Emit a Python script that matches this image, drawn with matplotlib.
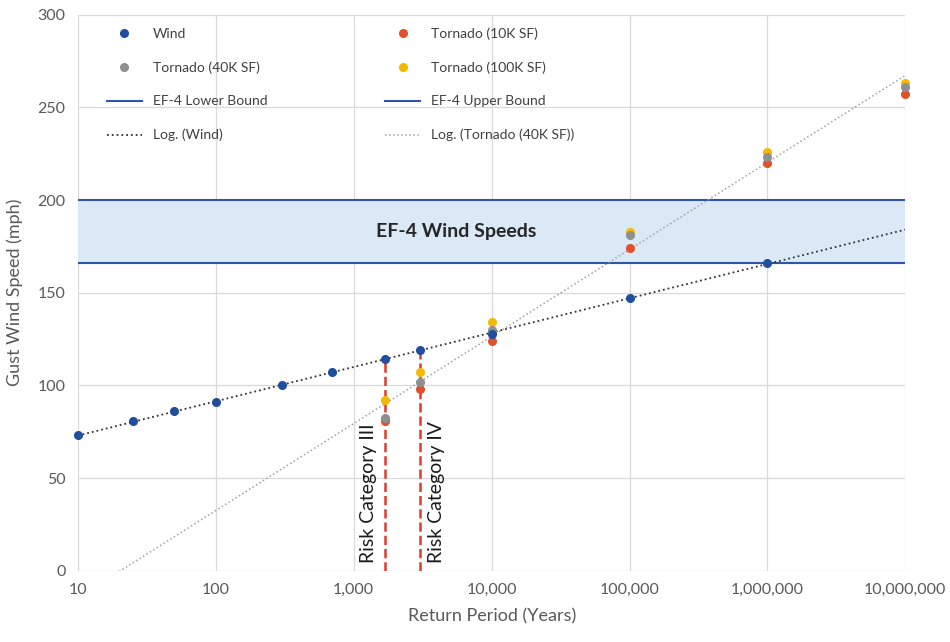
import matplotlib.pyplot as plt
import numpy as np

plt.rcParams['font.family'] = ['Lato', 'DejaVu Sans']

# Data
wind_years = [10, 25, 50, 100, 300, 700, 1700, 3000, 10000, 100000, 1000000]
wind_speed = [73, 81, 86, 91, 100, 107, 114, 119, 128, 147, 166]

tor_years = [1700, 3000, 10000, 100000, 1000000, 10000000]
tor_10k = [81, 98, 124, 174, 220, 257]
tor_40k = [82.5, 102, 130, 181, 223, 261]
tor_100k = [92, 107, 134, 183, 226, 263]

ef4_lower = 166
ef4_upper = 200

risk_years = [1700, 3000]
risk_labels = ["Risk Category III", "Risk Category IV"]

xticks = [10, 100, 1000, 10000, 100000, 1000000, 10000000]
xtick_labels = ["10", "100", "1,000", "10,000", "100,000", "1,000,000", "10,000,000"]

fig = plt.figure(figsize=(9.5, 6.42), dpi=100)
ax = fig.add_axes([0.082, 0.111, 0.871, 0.866])

xmin, xmax = 10, 10000000
xs = np.logspace(1, 7, 200)

# EF-4 band
ax.axhspan(ef4_lower, ef4_upper, color='#dbe8f6', zorder=1)
ax.text(5500, (ef4_lower + ef4_upper) / 2, "EF-4 Wind Speeds", ha='center', va='center',
        fontsize=14, color='#262626', fontweight='bold', zorder=3)

# log trendlines
cw = np.polyfit(np.log(wind_years), wind_speed, 1)
ct = np.polyfit(np.log(tor_years), tor_40k, 1)

mk = dict(ms=5.5, clip_on=False)
h_wind, = ax.plot(wind_years, wind_speed, 'o', color='#1f4e9c', zorder=5, label='Wind', **mk)
h_10k, = ax.plot(tor_years, tor_10k, 'o', color='#e0502a', zorder=4, label='Tornado (10K SF)', **mk)
h_40k, = ax.plot(tor_years, tor_40k, 'o', color='#8f8f8f', zorder=4, label='Tornado (40K SF)', **mk)
h_100k, = ax.plot(tor_years, tor_100k, 'o', color='#f5b800', zorder=3.5, label='Tornado (100K SF)', **mk)
h_low = ax.axhline(ef4_lower, color='#2f55a4', lw=1.5, zorder=2, label='EF-4 Lower Bound')
h_up = ax.axhline(ef4_upper, color='#2f55a4', lw=1.5, zorder=2, label='EF-4 Upper Bound')
h_lw, = ax.plot(xs, np.polyval(cw, np.log(xs)), ':', color='#333333', lw=1.3, zorder=3, label='Log. (Wind)')
h_lt, = ax.plot(xs, np.polyval(ct, np.log(xs)), ':', color='#a0a0a0', lw=1.1, zorder=3,
                label='Log. (Tornado (40K SF))')

# risk category markers
for yr, lab, side in zip(risk_years, risk_labels, [-1, 1]):
    top = np.interp(np.log(yr), np.log(wind_years), wind_speed)
    ax.plot([yr, yr], [0, top], '--', color='#e03a2a', lw=1.8, zorder=2.5)
    xt = yr * (10 ** (side * 0.12))
    ax.text(xt, 4, lab, rotation=90, ha='center', va='bottom', fontsize=14, color='#1a1a1a')

ax.set_xscale('log')
ax.set_xlim(xmin, xmax)
ax.set_ylim(0, 300)
ax.set_xticks(xticks)
ax.set_xticklabels(xtick_labels)
ax.minorticks_off()
ax.set_yticks(range(0, 301, 50))
ax.tick_params(length=0, labelsize=11.5, colors='#595959', pad=9)
ax.grid(True, color='#d9d9d9', lw=0.9)
ax.set_axisbelow(True)
for s in ax.spines.values():
    s.set_visible(False)

ax.set_xlabel("Return Period (Years)", fontsize=13, color='#595959', labelpad=8)
ax.set_ylabel("Gust Wind Speed (mph)", fontsize=13, color='#595959', labelpad=10)

handles = [h_wind, h_40k, h_low, h_lw, h_10k, h_100k, h_up, h_lt]
ax.legend(handles=handles, ncol=2, frameon=False, loc='upper left',
          bbox_to_anchor=(0.02, 1.0), fontsize=10, columnspacing=8.5,
          handlelength=2.5, labelspacing=1.55, labelcolor='#404040')

plt.savefig("out.png", dpi=100)
